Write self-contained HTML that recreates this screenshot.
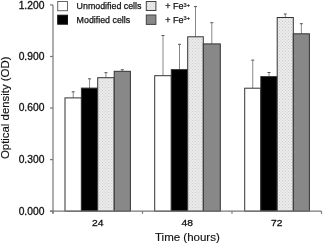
<!DOCTYPE html>
<html><head><meta charset="utf-8"><style>
html,body{margin:0;padding:0;background:#fff;width:323px;height:244px;overflow:hidden}
svg{display:block;will-change:transform}
text{font-family:"Liberation Sans",sans-serif;fill:#111}
</style></head><body>
<svg width="323" height="244" viewBox="0 0 323 244">
<defs>
<pattern id="dots" width="3" height="3" patternUnits="userSpaceOnUse">
<rect width="3" height="3" fill="#ececec"/>
<rect width="1" height="1" fill="#cdcdcd"/>
<rect x="1.5" y="1.5" width="1" height="1" fill="#cdcdcd"/>
</pattern>
</defs>
<line x1="73.20" y1="97.90" x2="73.20" y2="91.80" stroke="#888" stroke-width="1"/>
<line x1="71.70" y1="91.80" x2="74.70" y2="91.80" stroke="#555" stroke-width="1"/>
<rect x="65.00" y="97.90" width="16.40" height="113.30" fill="#ffffff" stroke="#333" stroke-width="1"/>
<line x1="89.55" y1="88.10" x2="89.55" y2="78.80" stroke="#888" stroke-width="1"/>
<line x1="88.05" y1="78.80" x2="91.05" y2="78.80" stroke="#555" stroke-width="1"/>
<rect x="81.40" y="88.10" width="16.30" height="123.10" fill="#000000" stroke="#333" stroke-width="1"/>
<line x1="105.95" y1="77.70" x2="105.95" y2="72.70" stroke="#888" stroke-width="1"/>
<line x1="104.45" y1="72.70" x2="107.45" y2="72.70" stroke="#555" stroke-width="1"/>
<rect x="97.70" y="77.70" width="16.50" height="133.50" fill="url(#dots)" stroke="#333" stroke-width="1"/>
<line x1="122.30" y1="71.30" x2="122.30" y2="69.70" stroke="#888" stroke-width="1"/>
<line x1="120.80" y1="69.70" x2="123.80" y2="69.70" stroke="#555" stroke-width="1"/>
<rect x="114.20" y="71.30" width="16.20" height="139.90" fill="#888888" stroke="#333" stroke-width="1"/>
<line x1="163.00" y1="75.70" x2="163.00" y2="35.50" stroke="#888" stroke-width="1"/>
<line x1="161.50" y1="35.50" x2="164.50" y2="35.50" stroke="#555" stroke-width="1"/>
<rect x="154.70" y="75.70" width="16.60" height="135.50" fill="#ffffff" stroke="#333" stroke-width="1"/>
<line x1="179.50" y1="69.60" x2="179.50" y2="44.30" stroke="#888" stroke-width="1"/>
<line x1="178.00" y1="44.30" x2="181.00" y2="44.30" stroke="#555" stroke-width="1"/>
<rect x="171.30" y="69.60" width="16.40" height="141.60" fill="#000000" stroke="#333" stroke-width="1"/>
<line x1="195.50" y1="36.80" x2="195.50" y2="6.60" stroke="#888" stroke-width="1"/>
<line x1="194.00" y1="6.60" x2="197.00" y2="6.60" stroke="#555" stroke-width="1"/>
<rect x="187.70" y="36.80" width="15.60" height="174.40" fill="url(#dots)" stroke="#333" stroke-width="1"/>
<line x1="211.80" y1="43.90" x2="211.80" y2="22.70" stroke="#888" stroke-width="1"/>
<line x1="210.30" y1="22.70" x2="213.30" y2="22.70" stroke="#555" stroke-width="1"/>
<rect x="203.30" y="43.90" width="17.00" height="167.30" fill="#888888" stroke="#333" stroke-width="1"/>
<line x1="252.75" y1="88.20" x2="252.75" y2="60.10" stroke="#888" stroke-width="1"/>
<line x1="251.25" y1="60.10" x2="254.25" y2="60.10" stroke="#555" stroke-width="1"/>
<rect x="244.70" y="88.20" width="16.10" height="123.00" fill="#ffffff" stroke="#333" stroke-width="1"/>
<line x1="269.00" y1="76.60" x2="269.00" y2="72.50" stroke="#888" stroke-width="1"/>
<line x1="267.50" y1="72.50" x2="270.50" y2="72.50" stroke="#555" stroke-width="1"/>
<rect x="260.80" y="76.60" width="16.40" height="134.60" fill="#000000" stroke="#333" stroke-width="1"/>
<line x1="285.25" y1="17.50" x2="285.25" y2="14.00" stroke="#888" stroke-width="1"/>
<line x1="283.75" y1="14.00" x2="286.75" y2="14.00" stroke="#555" stroke-width="1"/>
<rect x="277.20" y="17.50" width="16.10" height="193.70" fill="url(#dots)" stroke="#333" stroke-width="1"/>
<line x1="301.35" y1="33.80" x2="301.35" y2="23.70" stroke="#888" stroke-width="1"/>
<line x1="299.85" y1="23.70" x2="302.85" y2="23.70" stroke="#555" stroke-width="1"/>
<rect x="293.30" y="33.80" width="16.10" height="177.40" fill="#888888" stroke="#333" stroke-width="1"/>
<line x1="53.0" y1="4.9" x2="53.0" y2="213.8" stroke="#777" stroke-width="1.2"/>
<line x1="50" y1="211.2" x2="321.5" y2="211.2" stroke="#777" stroke-width="1.2"/>
<line x1="50" y1="211.20" x2="53.0" y2="211.20" stroke="#777" stroke-width="1.2"/>
<text transform="translate(44.4,214.50) scale(1,0.98)" text-anchor="end" font-size="10.3" stroke="#111" stroke-width="0.3">0.000</text>
<line x1="50" y1="159.62" x2="53.0" y2="159.62" stroke="#777" stroke-width="1.2"/>
<text transform="translate(44.4,162.93) scale(1,0.98)" text-anchor="end" font-size="10.3" stroke="#111" stroke-width="0.3">0.300</text>
<line x1="50" y1="108.05" x2="53.0" y2="108.05" stroke="#777" stroke-width="1.2"/>
<text transform="translate(44.4,111.35) scale(1,0.98)" text-anchor="end" font-size="10.3" stroke="#111" stroke-width="0.3">0.600</text>
<line x1="50" y1="56.48" x2="53.0" y2="56.48" stroke="#777" stroke-width="1.2"/>
<text transform="translate(44.4,59.78) scale(1,0.98)" text-anchor="end" font-size="10.3" stroke="#111" stroke-width="0.3">0.900</text>
<line x1="50" y1="4.90" x2="53.0" y2="4.90" stroke="#777" stroke-width="1.2"/>
<text transform="translate(44.4,8.70) scale(1,0.98)" text-anchor="end" font-size="10.3" stroke="#111" stroke-width="0.3">1.200</text>
<line x1="53.00" y1="211.2" x2="53.00" y2="213.8" stroke="#777" stroke-width="1.2"/>
<line x1="142.50" y1="211.2" x2="142.50" y2="213.8" stroke="#777" stroke-width="1.2"/>
<line x1="232.00" y1="211.2" x2="232.00" y2="213.8" stroke="#777" stroke-width="1.2"/>
<line x1="321.50" y1="211.2" x2="321.50" y2="213.8" stroke="#777" stroke-width="1.2"/>
<text transform="translate(97.65,226.3) scale(1,0.92)" text-anchor="middle" font-size="10.3" stroke="#111" stroke-width="0.3">24</text>
<text transform="translate(187.15,226.3) scale(1,0.92)" text-anchor="middle" font-size="10.3" stroke="#111" stroke-width="0.3">48</text>
<text transform="translate(276.65,226.3) scale(1,0.92)" text-anchor="middle" font-size="10.3" stroke="#111" stroke-width="0.3">72</text>
<rect x="57.7" y="1.5" width="9.8" height="9.2" fill="#fff" stroke="#666" stroke-width="1"/>
<rect x="57.7" y="15.2" width="9.8" height="9" fill="#000" stroke="#111" stroke-width="1"/>
<rect x="146.3" y="1.5" width="9.6" height="9.0" fill="url(#dots)" stroke="#444" stroke-width="1"/>
<rect x="146.3" y="15.0" width="9.6" height="9.4" fill="#888" stroke="#444" stroke-width="1"/>
<text x="76.6" y="9.0" font-size="8.85" stroke="#111" stroke-width="0.25">Unmodified cells</text>
<text x="76.6" y="22.5" font-size="8.85" stroke="#111" stroke-width="0.25">Modified cells</text>
<text x="165.35" y="9.2" font-size="9" stroke="#111" stroke-width="0.25">+ Fe<tspan font-size="5.5" dy="-2.5" stroke-width="0.2">3+</tspan></text>
<text x="165.35" y="22.6" font-size="9" stroke="#111" stroke-width="0.25">+ Fe<tspan font-size="5.5" dy="-2.5" stroke-width="0.2">3+</tspan></text>
<text x="187.4" y="241.2" text-anchor="middle" font-size="11.5" stroke="#111" stroke-width="0.15">Time (hours)</text>
<text transform="translate(9.2,107.8) rotate(-90)" text-anchor="middle" font-size="11.4" stroke="#111" stroke-width="0.15">Optical density (OD)</text>
</svg>
</body></html>
